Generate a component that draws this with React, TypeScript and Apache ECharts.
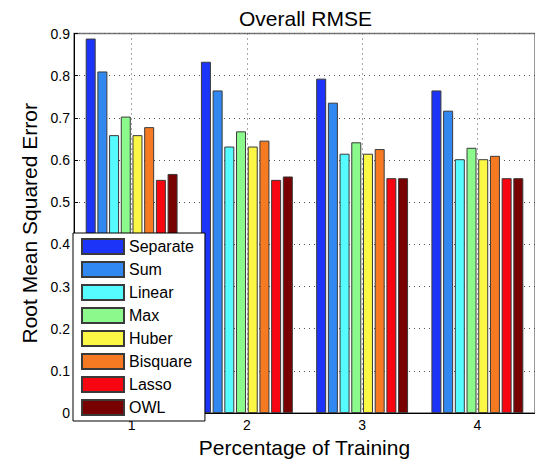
import React, { useEffect, useRef } from "react";
import * as echarts from "echarts";

const categories = ["1", "2", "3", "4"];
const seriesNames = ["Separate", "Sum", "Linear", "Max", "Huber", "Bisquare", "Lasso", "OWL"];
const separate = [0.888, 0.833, 0.793, 0.765];
const sum = [0.81, 0.765, 0.736, 0.717];
const linear = [0.659, 0.632, 0.615, 0.602];
const maxv = [0.703, 0.668, 0.642, 0.629];
const huber = [0.659, 0.632, 0.615, 0.602];
const bisquare = [0.678, 0.646, 0.626, 0.61];
const lasso = [0.553, 0.553, 0.557, 0.557];
const owl = [0.567, 0.561, 0.557, 0.557];
const seriesValues = [separate, sum, linear, maxv, huber, bisquare, lasso, owl];
const colors = ["#1c34f8", "#3088f0", "#55fbff", "#8cf98c", "#fbf744", "#f57a22", "#f70511", "#780000"];
// helper axis positions (half-steps) used only for the vertical dotted grid at each category
const halfSteps = ["0.5", "1", "1.5", "2", "2.5", "3", "3.5", "4", "4.5"];

const FONT = "'Liberation Sans', Arial, Helvetica, sans-serif";

export default function App() {
  const ref = useRef<HTMLDivElement>(null);
  useEffect(() => {
    if (!ref.current) return;
    const chart = echarts.init(ref.current, null, { renderer: "svg" });
    chart.setOption({
      animation: false,
      backgroundColor: "#ffffff",
      textStyle: { fontFamily: FONT },
      title: {
        text: "Overall RMSE",
        left: 234,
        top: 3,
        textStyle: { fontFamily: FONT, fontSize: 21, fontWeight: "normal", color: "#000" },
      },
      grid: {
        left: 74,
        top: 33.5,
        right: -8,
        bottom: 47.5,
        show: true,
        backgroundColor: "#fff",
        borderColor: "#777",
        borderWidth: 1.5,
      },
      legend: {
        orient: "vertical",
        left: 73,
        top: 233,
        data: seriesNames,
        icon: "rect",
        itemWidth: 42,
        itemHeight: 15,
        itemGap: 6,
        padding: [5, 11, 5, 8],
        backgroundColor: "#fff",
        borderColor: "#000",
        borderWidth: 1,
        borderRadius: 0,
        textStyle: { fontFamily: FONT, fontSize: 16, color: "#000" },
      },
      xAxis: [
        {
          type: "category",
          data: categories,
          position: "bottom",
          axisLine: { lineStyle: { color: "#000", width: 1 } },
          axisTick: { inside: true, alignWithLabel: true, length: 4, lineStyle: { color: "#000" } },
          axisLabel: { fontFamily: FONT, fontSize: 14, color: "#000", margin: 5 },
          splitLine: { show: false },
          name: "Percentage of Training",
          nameLocation: "middle",
          nameGap: 19,
          nameTextStyle: { fontFamily: FONT, fontSize: 21, color: "#000" },
        },
        {
          type: "category",
          data: halfSteps,
          boundaryGap: false,
          position: "bottom",
          axisLine: { show: false },
          axisTick: { show: false },
          axisLabel: { show: false },
          splitLine: {
            show: true,
            interval: (idx: number) => idx % 2 === 1,
            lineStyle: { color: "#555", type: [1, 4], width: 1 },
          },
        },
      ],
      yAxis: {
        type: "value",
        min: 0,
        max: 0.9,
        interval: 0.1,
        axisLine: { show: true, lineStyle: { color: "#000", width: 1 } },
        axisTick: { show: true, inside: true, length: 4, lineStyle: { color: "#000" } },
        axisLabel: {
          fontFamily: FONT,
          fontSize: 14,
          color: "#000",
          margin: 4,
          formatter: (v: number) => (Math.round(v * 10) / 10).toString(),
        },
        splitLine: { show: true, lineStyle: { color: "#555", type: [1, 4], width: 1 } },
        name: "Root Mean Squared Error",
        nameLocation: "middle",
        nameGap: 32,
        nameTextStyle: { fontFamily: FONT, fontSize: 21, color: "#000" },
      },
      series: seriesNames.map((name, i) => ({
        name,
        type: "bar",
        xAxisIndex: 0,
        data: seriesValues[i],
        barWidth: 10,
        barGap: "17%",
        itemStyle: { color: colors[i], borderColor: "#3a3a3a", borderWidth: 1 },
      })),
    });
    return () => chart.dispose();
  }, []);
  return (
    <div
      ref={ref}
      style={{ position: "absolute", left: 0, top: 0, width: 535, height: 463 }}
    />
  );
}
